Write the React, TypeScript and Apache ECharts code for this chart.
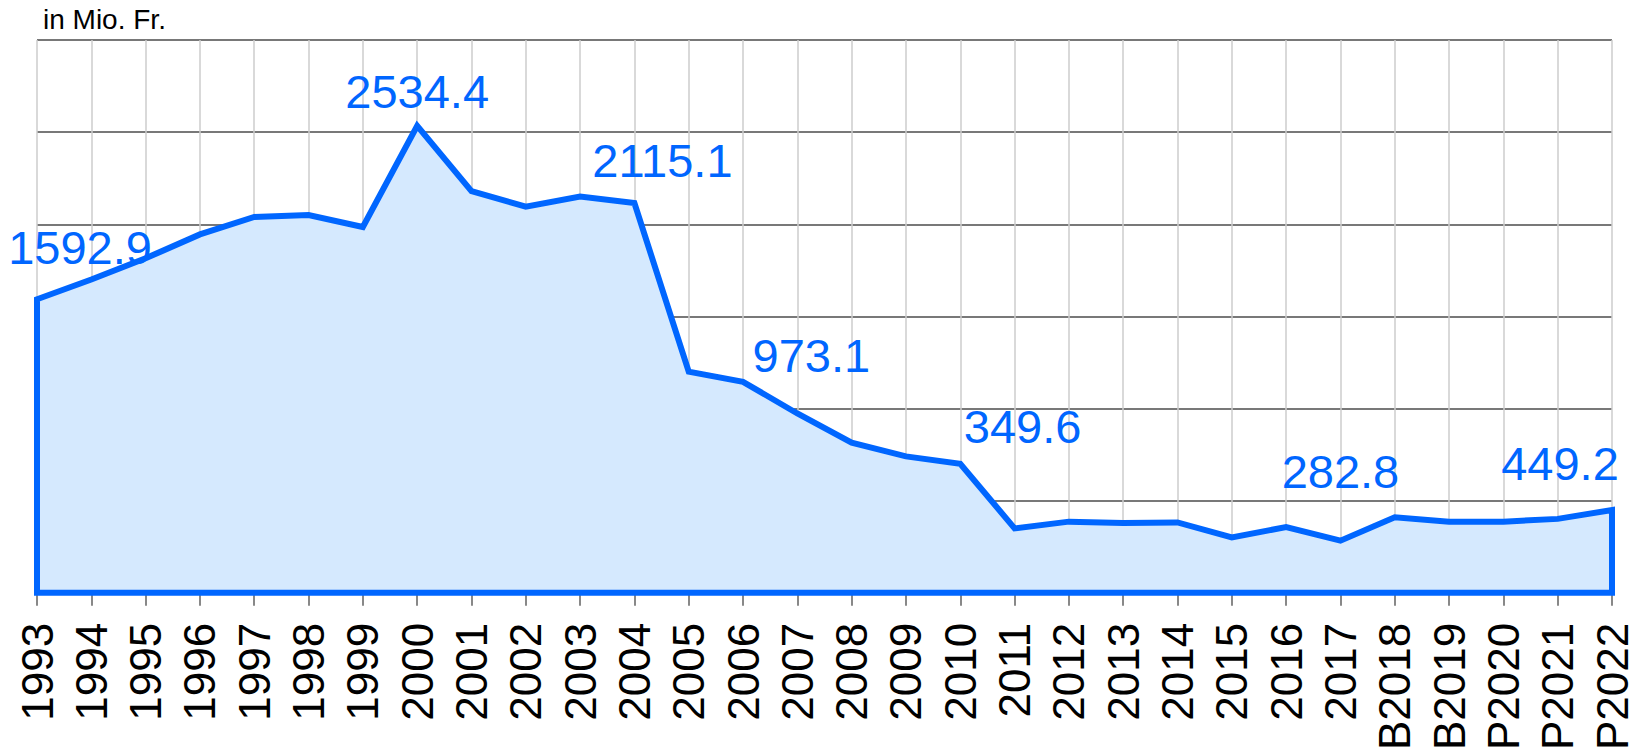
import React, { useEffect, useRef } from "react";
import * as echarts from "echarts";

const categories = [
  "1993", "1994", "1995", "1996", "1997", "1998", "1999", "2000", "2001", "2002",
  "2003", "2004", "2005", "2006", "2007", "2008", "2009", "2010", "2011", "2012",
  "2013", "2014", "2015", "2016", "2017", "B2018", "B2019", "P2020", "P2021", "P2022",
];

const values = [
  1592.9, 1700, 1815, 1945, 2040, 2050, 1985, 2534.4, 2180, 2095,
  2150, 2115.1, 1200, 1145, 973.1, 815, 740, 700, 349.6, 386,
  378, 382, 300, 357, 282.8, 410, 385, 386, 401, 449.2,
];

const labelledYears = ["1993", "2000", "2004", "2007", "2011", "2017", "P2022"];

const yTicks = [0, 500, 1000, 1500, 2000, 2500, 3000];

const unitLabel = "in Mio. Fr.";

// label placement (style): offset of label centre from its point, in px
const labelOffsets: Record<string, [number, number]> = {
  "1993": [43, -52],
  "2000": [0, -34],
  "2004": [28, -43],
  "2007": [14, -58],
  "2011": [8, -102],
  "2017": [0, -69],
  "P2022": [-52, -47],
};

const FONT = '"Liberation Sans", Arial, Helvetica, sans-serif';
const BLUE = "#0066ff";

export default function App() {
  const ref = useRef<HTMLDivElement>(null);

  useEffect(() => {
    if (!ref.current) return;
    const chart = echarts.init(ref.current, null, { renderer: "svg" });

    const renderItem = (params: any, api: any) => {
      const i = params.dataIndex;
      const children: any[] = [];
      if (i === 0) {
        const pts: number[][] = [];
        pts.push(api.coord([0, 0]));
        for (let k = 0; k < values.length; k++) pts.push(api.coord([k, values[k]]));
        pts.push(api.coord([values.length - 1, 0]));
        children.push({
          type: "polygon",
          shape: { points: pts },
          style: { fill: "#d5e9fe", stroke: BLUE, lineWidth: 6, lineJoin: "miter" },
        });
      }
      const cat = categories[i];
      if (labelledYears.indexOf(cat) >= 0) {
        const p = api.coord([i, values[i]]);
        const off = labelOffsets[cat] || [0, -40];
        children.push({
          type: "text",
          x: p[0] + off[0],
          y: p[1] + off[1],
          z2: 10,
          style: {
            text: values[i].toFixed(1),
            fill: BLUE,
            fontSize: 47,
            fontFamily: FONT,
            align: "center",
            verticalAlign: "middle",
          },
        });
      }
      if (!children.length) return null;
      return { type: "group", children };
    };

    chart.setOption({
      animation: false,
      backgroundColor: "#ffffff",
      title: {
        text: unitLabel,
        left: 43,
        top: 5,
        padding: 0,
        textStyle: { fontSize: 28, fontWeight: "normal", color: "#000", fontFamily: FONT },
      },
      grid: { left: 37, right: 28, top: 40, bottom: 159, containLabel: false },
      xAxis: {
        type: "category",
        data: categories,
        boundaryGap: false,
        axisLine: { show: true, lineStyle: { color: "#707070", width: 3 } },
        axisTick: { show: true, length: 13, interval: 0, lineStyle: { color: "#888", width: 2 } },
        splitLine: { show: true, interval: 0, lineStyle: { color: "#cccccc", width: 1.5 } },
        axisLabel: {
          interval: 0,
          rotate: 90,
          margin: 30,
          fontSize: 44,
          color: "#000",
          fontFamily: FONT,
        },
        z: 1,
      },
      yAxis: {
        type: "value",
        min: yTicks[0],
        max: yTicks[yTicks.length - 1],
        interval: yTicks[1] - yTicks[0],
        axisLabel: { show: false },
        axisLine: { show: false },
        axisTick: { show: false },
        splitLine: { show: true, lineStyle: { color: "#787878", width: 2 } },
      },
      series: [
        {
          type: "custom",
          renderItem,
          data: values.map((v, i) => [i, v]),
          encode: { x: 0, y: 1 },
          clip: false,
          z: 5,
        },
      ],
    });

    return () => chart.dispose();
  }, []);

  return (
    <div
      ref={ref}
      style={{ position: "absolute", left: 0, top: 0, width: 1640, height: 753, background: "#fff" }}
    />
  );
}
